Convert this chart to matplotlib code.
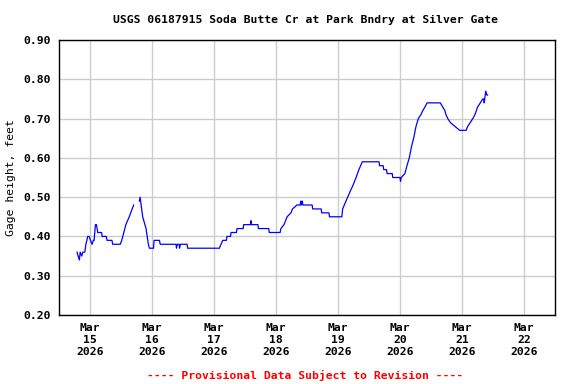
import numpy as np
import pandas as pd
import matplotlib
matplotlib.use('Agg')
import matplotlib.pyplot as plt
import matplotlib.dates as mdates

plt.rcParams['font.family'] = 'DejaVu Sans Mono'
plt.rcParams['font.weight'] = 'bold'

# hours since 2026-03-15 00:00 and gage height (ft)
# (nan marks the short gap in the record on Mar 15)
hours = [-5.0, -4.6, -4.1, -3.8, -3.2, -2.8, -2.0, -1.6, -1.2, -0.9, -0.3,
         0.2, 0.8, 1.3, 1.6, 2.1, 2.5, 3.0, 3.5, 4.5, 4.7, 6.3, 6.6, 8.5,
         8.8, 11.7, 12.3, 12.7, 13.9, 15.2, 16.9, 18.0,
         19.1, 19.4, 20.4, 21.7, 22.6, 23.0, 24.6, 24.8, 26.9, 27.2, 33.3,
         33.5, 33.8, 34.5, 34.7, 35.0, 37.6, 37.8, 50.1, 50.7, 51.4, 52.8,
         53.0, 54.4, 54.6, 56.7, 56.9, 59.3, 59.5, 62.2, 62.3, 62.5, 65.0,
         65.2, 69.2, 69.4, 73.6, 73.9, 75.1, 76.3, 77.8, 78.4, 80.1, 81.4,
         81.6, 81.8, 82.2, 82.4, 86.0, 86.2, 89.5, 89.7, 92.5, 92.7, 97.5,
         97.8, 99.1, 100.4, 101.8, 103.0, 104.1, 105.4, 111.9, 112.1, 113.5,
         113.7, 114.8, 115.0, 117.0, 117.2, 120.0, 120.2, 120.5, 121.9,
         122.7, 123.6, 124.5, 125.3, 126.2, 127.1, 128.1, 128.8, 129.7,
         130.5, 135.6, 136.5, 137.4, 137.8, 138.5, 139.5, 141.3, 143.1,
         145.6, 146.2, 147.2, 148.2, 149.0, 150.1, 151.1, 152.0, 152.4,
         152.6, 152.8, 153.2, 153.6, 153.9]
gage = [0.36, 0.35, 0.34, 0.36, 0.35, 0.36, 0.36, 0.38, 0.39, 0.40, 0.40,
        0.39, 0.38, 0.39, 0.39, 0.43, 0.43, 0.41, 0.41, 0.41, 0.40, 0.40, 0.39, 0.39,
        0.38, 0.38, 0.39, 0.40, 0.43, 0.45, 0.48, np.nan,
        0.49, 0.50, 0.45, 0.42, 0.38, 0.37, 0.37, 0.39, 0.39, 0.38, 0.38,
        0.37, 0.38, 0.38, 0.37, 0.38, 0.38, 0.37, 0.37, 0.38, 0.39, 0.39,
        0.40, 0.40, 0.41, 0.41, 0.42, 0.42, 0.43, 0.43, 0.44, 0.43, 0.43,
        0.42, 0.42, 0.41, 0.41, 0.42, 0.43, 0.45, 0.46, 0.47, 0.48, 0.48,
        0.49, 0.48, 0.49, 0.48, 0.48, 0.47, 0.47, 0.46, 0.46, 0.45, 0.45,
        0.47, 0.49, 0.51, 0.53, 0.55, 0.57, 0.59, 0.59, 0.58, 0.58,
        0.57, 0.57, 0.56, 0.56, 0.55, 0.55, 0.54, 0.55, 0.56,
        0.58, 0.60, 0.63, 0.65, 0.68, 0.70, 0.71, 0.72, 0.73,
        0.74, 0.74, 0.73, 0.72, 0.71, 0.70, 0.69, 0.68, 0.67,
        0.67, 0.68, 0.69, 0.70, 0.71, 0.73, 0.74, 0.75, 0.75,
        0.74, 0.75, 0.77, 0.76, 0.76]

t0 = pd.Timestamp('2026-03-15')
times = t0 + pd.to_timedelta(hours, unit='h')

fig = plt.figure(figsize=(5.76, 3.84), dpi=100)
ax = fig.add_axes([0.1024, 0.1797, 0.8611, 0.7161])

ax.plot(times, gage, color='#0000ff', linewidth=0.9)

ax.set_xlim(pd.Timestamp('2026-03-14 12:00'), pd.Timestamp('2026-03-22 12:00'))
ax.set_ylim(0.2, 0.9)
ax.set_yticks(np.arange(0.2, 0.91, 0.1))
ax.yaxis.set_major_formatter(plt.FormatStrFormatter('%.2f'))
ax.xaxis.set_major_locator(mdates.DayLocator())
ax.xaxis.set_major_formatter(mdates.DateFormatter('%b\n%d\n%Y'))

ax.grid(True, color='#cccccc', linewidth=1)
ax.set_axisbelow(True)
ax.tick_params(length=0, labelsize=8.2, pad=6)
for s in ax.spines.values():
    s.set_linewidth(1)

ax.set_ylabel('Gage height, feet', fontsize=8.2, labelpad=5)
fig.text(0.53, 0.948, 'USGS 06187915 Soda Butte Cr at Park Bndry at Silver Gate',
         ha='center', va='center', fontsize=8.2)
fig.text(0.53, 0.022, '---- Provisional Data Subject to Revision ----',
         ha='center', va='center', fontsize=8.2, color='red')

fig.savefig('out.png', dpi=100)
